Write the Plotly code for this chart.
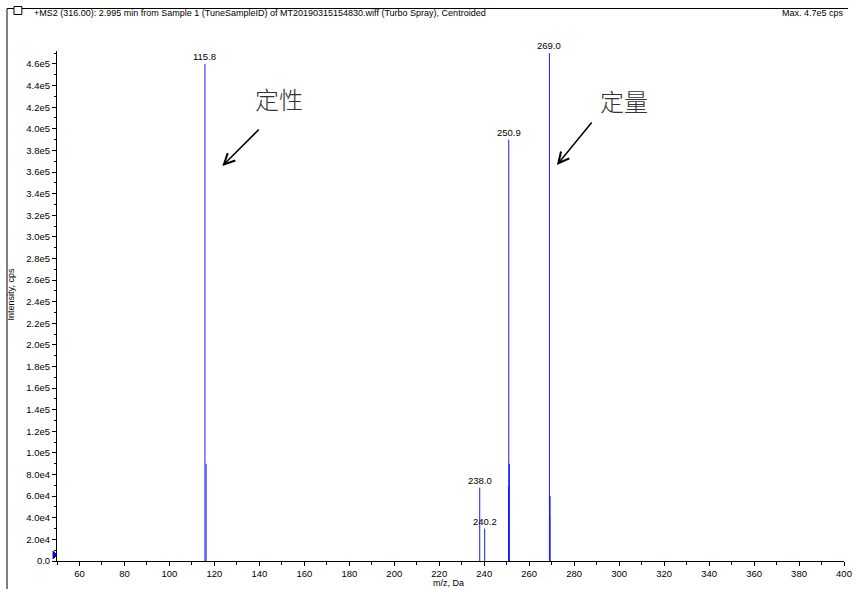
import plotly.graph_objects as go

# Centroided product-ion spectrum (MS2 of m/z 316.00)
mz = [115.8, 116.3, 238.0, 240.2, 250.9, 250.8, 251.2, 269.0, 269.1, 269.3]
intensity = [4.60e5, 9.0e4, 6.8e4, 3.0e4, 3.90e5, 6.9e4, 9.0e4, 4.70e5, 4.0e4, 6.0e4]

# peaks that carry an m/z label
label_mz = [115.8, 238.0, 240.2, 250.9, 269.0]
label_int = [4.60e5, 6.8e4, 3.0e4, 3.90e5, 4.70e5]

# axis ticks
x_ticks = list(range(60, 401, 20))
y_ticks = [0, 2e4, 4e4, 6e4, 8e4, 1.0e5, 1.2e5, 1.4e5, 1.6e5, 1.8e5, 2.0e5, 2.2e5,
           2.4e5, 2.6e5, 2.8e5, 3.0e5, 3.2e5, 3.4e5, 3.6e5, 3.8e5, 4.0e5, 4.2e5,
           4.4e5, 4.6e5]
y_tick_text = ["0.0", "2.0e4", "4.0e4", "6.0e4", "8.0e4", "1.0e5", "1.2e5", "1.4e5",
               "1.6e5", "1.8e5", "2.0e5", "2.2e5", "2.4e5", "2.6e5", "2.8e5", "3.0e5",
               "3.2e5", "3.4e5", "3.6e5", "3.8e5", "4.0e5", "4.2e5", "4.4e5", "4.6e5"]

W, H = 856, 589
L, R, T, B = 57, 4, 51, 28
PW, PH = W - L - R, H - T - B


def px(x):
    return (x - L) / PW


def py(y):
    return (H - B - y) / PH


FONT = "Liberation Sans, Arial, sans-serif"
BLUE = "#1a1aff"

# stick segments from baseline to intensity
xs, ys = [], []
for m, i in zip(mz, intensity):
    xs += [m, m, None]
    ys += [0, i, None]

fig = go.Figure()
fig.add_trace(go.Scatter(x=xs, y=ys, mode="lines",
                         line=dict(color=BLUE, width=1), hoverinfo="skip",
                         showlegend=False))

annotations = []
for m, i in zip(label_mz, label_int):
    annotations.append(dict(x=m, y=i, xref="x", yref="y", text=f"{m:.1f}",
                            showarrow=False, xanchor="center", yanchor="bottom",
                            yshift=0,
                            font=dict(family=FONT, size=9.5, color="black")))


def paper_text(x, y, text, xanchor="center", **kw):
    return dict(x=px(x), y=py(y), xref="paper", yref="paper", text=text,
                xanchor=xanchor, yanchor="middle", showarrow=False, **kw)


# header line
annotations.append(paper_text(
    32, 13, "+MS2 (316.00): 2.995 min from Sample 1 (TuneSampleID) of "
            "MT20190315154830.wiff (Turbo Spray), Centroided",
    xanchor="left", font=dict(family=FONT, size=9, color="black")))
annotations.append(paper_text(
    854, 13, "Max. 4.7e5 cps", xanchor="right",
    font=dict(family=FONT, size=9, color="black")))

# axis titles
annotations.append(paper_text(452, 583, "m/z, Da",
                              font=dict(family=FONT, size=9, color="black")))
annotations.append(paper_text(11, 294, "Intensity, cps", textangle=-90,
                              font=dict(family=FONT, size=9, color="black")))

# qualitative / quantitative ion callouts
CJK = "Noto Sans CJK SC, sans-serif"
annotations.append(paper_text(281, 98, "定性",
                              font=dict(family=CJK, size=24, color="#333333",
                                        weight=300)))
annotations.append(paper_text(630, 100, "定量",
                              font=dict(family=CJK, size=24, color="#333333",
                                        weight=300)))
annotations.append(dict(
    x=px(224), y=py(166), xref="paper", yref="paper", text="", showarrow=True,
    ax=38, ay=-38, axref="pixel", ayref="pixel",
    arrowhead=5, arrowsize=1.4, arrowwidth=1.5, arrowcolor="black"))
annotations.append(dict(
    x=px(562), y=py(165), xref="paper", yref="paper", text="", showarrow=True,
    ax=36, ay=-44, axref="pixel", ayref="pixel",
    arrowhead=5, arrowsize=1.4, arrowwidth=1.5, arrowcolor="black"))

shapes = [
    # pane frame
    dict(type="line", xref="paper", yref="paper", x0=px(6.5), x1=px(W), y0=py(8.5), y1=py(8.5),
         line=dict(color="black", width=1)),
    dict(type="line", xref="paper", yref="paper", x0=px(6.5), x1=px(6.5), y0=py(8.5), y1=py(H),
         line=dict(color="black", width=1)),
    # checkbox
    dict(type="rect", xref="paper", yref="paper", x0=px(13.5), x1=px(21.5), y0=py(14.5), y1=py(6.5),
         line=dict(color="black", width=1), fillcolor="white"),
    # precursor marker on the y axis
    dict(type="path", xref="paper", yref="paper",
         path=f"M {px(53)} {py(551)} L {px(57)} {py(555)} L {px(53)} {py(559)} Z",
         fillcolor="#0000cc", line=dict(color="#0000cc", width=1)),
]

fig.update_layout(
    width=W, height=H,
    margin=dict(l=L, r=R, t=T, b=B),
    paper_bgcolor="white", plot_bgcolor="white",
    font=dict(family=FONT, size=9.5, color="black"),
    annotations=annotations, shapes=shapes,
    xaxis=dict(range=[50, 400], tickvals=x_ticks, ticks="outside", ticklen=4,
               tickcolor="black", showline=True, linecolor="black", linewidth=1,
               showgrid=False, zeroline=False, tickfont=dict(size=9.5),
               ticklabeloverflow="allow",
               minor=dict(dtick=10, tick0=50, ticks="outside", ticklen=3,
                          tickcolor="black", showgrid=False)),
    yaxis=dict(range=[0, 4.72e5], tickvals=y_ticks, ticktext=y_tick_text,
               ticks="outside", ticklen=4, tickcolor="black", showline=True,
               linecolor="black", linewidth=1, showgrid=False, zeroline=False,
               tickfont=dict(size=9.5),
               minor=dict(dtick=1e4, tick0=0, ticks="outside", ticklen=2,
                          tickcolor="black", showgrid=False)),
)

fig.write_html("out.html")
